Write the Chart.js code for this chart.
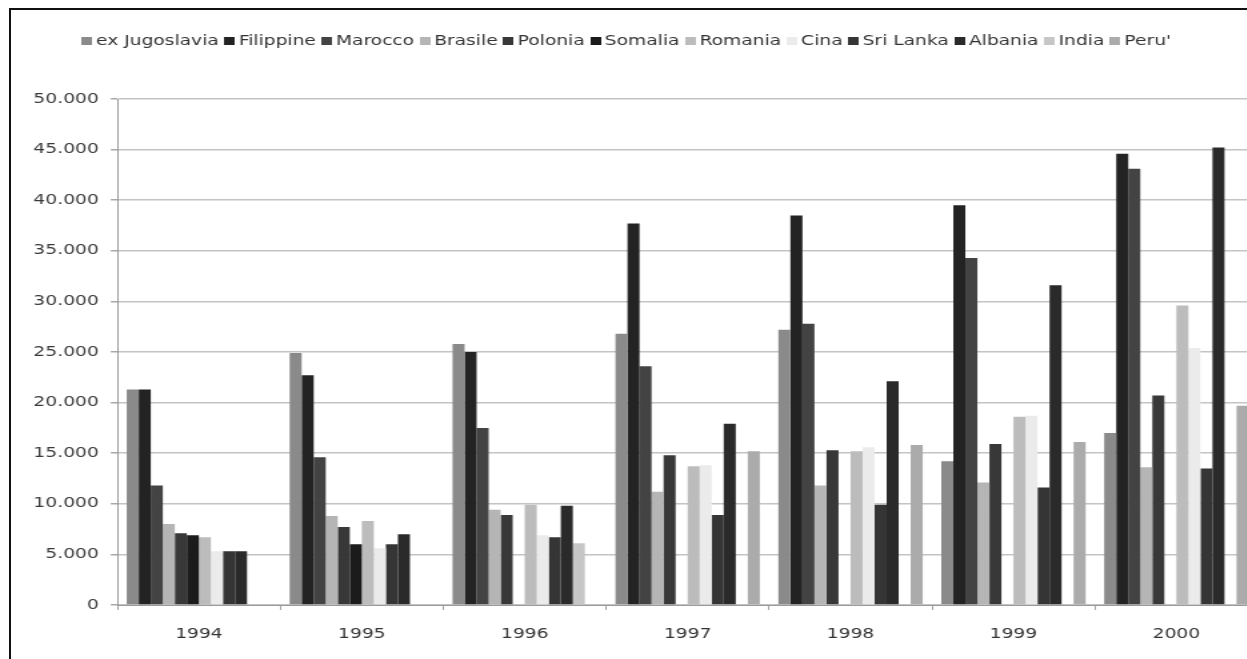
<!DOCTYPE html>
<html>
<head>
<meta charset="utf-8">
<script src="https://cdn.jsdelivr.net/npm/chart.js@4.4.1/dist/chart.umd.min.js"></script>
<style>
  html, body { margin: 0; padding: 0; background: #fff; overflow: hidden; width: 1247px; height: 659px; }
  /* the chart is laid out on a narrower canvas and widened by 4:3 */
  #stage { position: absolute; left: 0; top: 0; width: 946px; height: 659px;
           transform: scaleX(1.3333); transform-origin: 0 0; }
  #frame { position: absolute; left: 9px; top: 8px; right: -20px; bottom: -20px;
           border-left: 2px solid #111; border-top: 2px solid #111; pointer-events: none; }
</style>
</head>
<body>
<div id="stage"><canvas id="chart" width="946" height="659"></canvas></div>
<div id="frame"></div>
<script>
// Years on the category axis
const years = ['1994', '1995', '1996', '1997', '1998', '1999', '2000'];

// Residents by country of origin, one array per country
const exJugoslavia = [21300, 24900, 25800, 26800, 27200, 14200, 17000];
const filippine    = [21300, 22700, 25000, 37700, 38500, 39500, 44600];
const marocco      = [11800, 14600, 17500, 23600, 27800, 34300, 43100];
const brasile      = [8000, 8800, 9400, 11200, 11800, 12100, 13600];
const polonia      = [7100, 7700, 8900, 14800, 15300, 15900, 20700];
const somalia      = [6900, 6000, 0, 0, 0, 0, 0];
const romania      = [6700, 8300, 9900, 13700, 15200, 18600, 29600];
const cina         = [5300, 5600, 6900, 13800, 15600, 18700, 25400];
const sriLanka     = [5300, 6000, 6700, 8900, 9900, 11600, 13500];
const albania      = [5300, 7000, 9800, 17900, 22100, 31600, 45200];
const india        = [0, 0, 6100, 0, 0, 0, 0];
const peru         = [0, 0, 0, 15200, 15800, 16100, 19700];

// Value axis ticks
const yMin = 0;
const yMax = 50000;
const yStep = 5000;

const seriesNames = ['ex Jugoslavia', 'Filippine', 'Marocco', 'Brasile', 'Polonia', 'Somalia',
                     'Romania', 'Cina', 'Sri Lanka', 'Albania', 'India', "Peru'"];
const seriesValues = [exJugoslavia, filippine, marocco, brasile, polonia, somalia,
                      romania, cina, sriLanka, albania, india, peru];
const seriesColors = ['#8a8a8a', '#232323', '#434343', '#b5b5b5', '#383838', '#1b1b1b',
                      '#bcbcbc', '#ebebeb', '#353535', '#2a2a2a', '#c6c6c6', '#ababab'];

const PLOT_TOP = 99;      // y of the 50.000 gridline
const PLOT_LEFT = 88.1;   // y axis line
const PAD_LEFT = 0;
const PAD_TOP = 26;
const X_AXIS_H = 54;

function thousands(v) {
  return String(v).replace(/\B(?=(\d{3})+(?!\d))/g, '.');
}

// Small square legend swatch, drawn tight against its label
function swatch(color) {
  const c = document.createElement('canvas');
  c.width = 8; c.height = 8;
  const g = c.getContext('2d');
  g.fillStyle = color;
  g.fillRect(0, 0, 8, 8);
  return c;
}
const swatches = seriesColors.map(swatch);

// Pushes the plot area down below the legend
const legendGap = {
  id: 'legendGap',
  beforeInit(chart) {
    const fit = chart.legend.fit;
    chart.legend.fit = function () {
      fit.call(this);
      this.height = PLOT_TOP - PAD_TOP;
    };
  }
};

new Chart(document.getElementById('chart'), {
  type: 'bar',
  data: {
    labels: years,
    datasets: seriesNames.map((name, i) => ({
      label: name,
      data: seriesValues[i],
      backgroundColor: seriesColors[i],
      borderWidth: 0,
      categoryPercentage: 0.886,
      barPercentage: 1.0
    }))
  },
  options: {
    responsive: false,
    animation: false,
    devicePixelRatio: 1,
    layout: { padding: { top: PAD_TOP, left: PAD_LEFT, right: 2.6, bottom: 0 } },
    plugins: {
      legend: {
        position: 'top',
        labels: {
          usePointStyle: true,
          pointStyleWidth: 0.01,
          boxHeight: 8,
          padding: 8,
          color: '#333',
          font: { family: 'DejaVu Sans', size: 14 },
          generateLabels(chart) {
            const items = Chart.defaults.plugins.legend.labels.generateLabels(chart);
            items.forEach((it) => { it.pointStyle = swatches[it.datasetIndex]; it.lineWidth = 0; });
            return items;
          }
        }
      },
      tooltip: { enabled: false }
    },
    scales: {
      x: {
        afterFit(scale) { scale.height = X_AXIS_H; },
        grid: { display: true, drawOnChartArea: false, drawTicks: true, tickLength: 5, color: '#a0a0a0', offset: true },
        border: { display: true, color: '#9a9a9a', width: 1 },
        ticks: { color: '#333', padding: 16, font: { family: 'DejaVu Sans', size: 14 } }
      },
      y: {
        min: yMin,
        max: yMax,
        afterFit(scale) { scale.width = PLOT_LEFT - PAD_LEFT; },
        grid: { color: '#c4c4c4', lineWidth: 1.5, tickLength: 5, tickColor: '#a8a8a8' },
        border: { display: true, color: '#9a9a9a', width: 1 },
        ticks: {
          stepSize: yStep,
          color: '#3a3a3a',
          padding: 9,
          font: { family: 'DejaVu Sans', size: 14 },
          callback: (v) => thousands(v)
        }
      }
    }
  },
  plugins: [legendGap]
});
</script>
</body>
</html>
